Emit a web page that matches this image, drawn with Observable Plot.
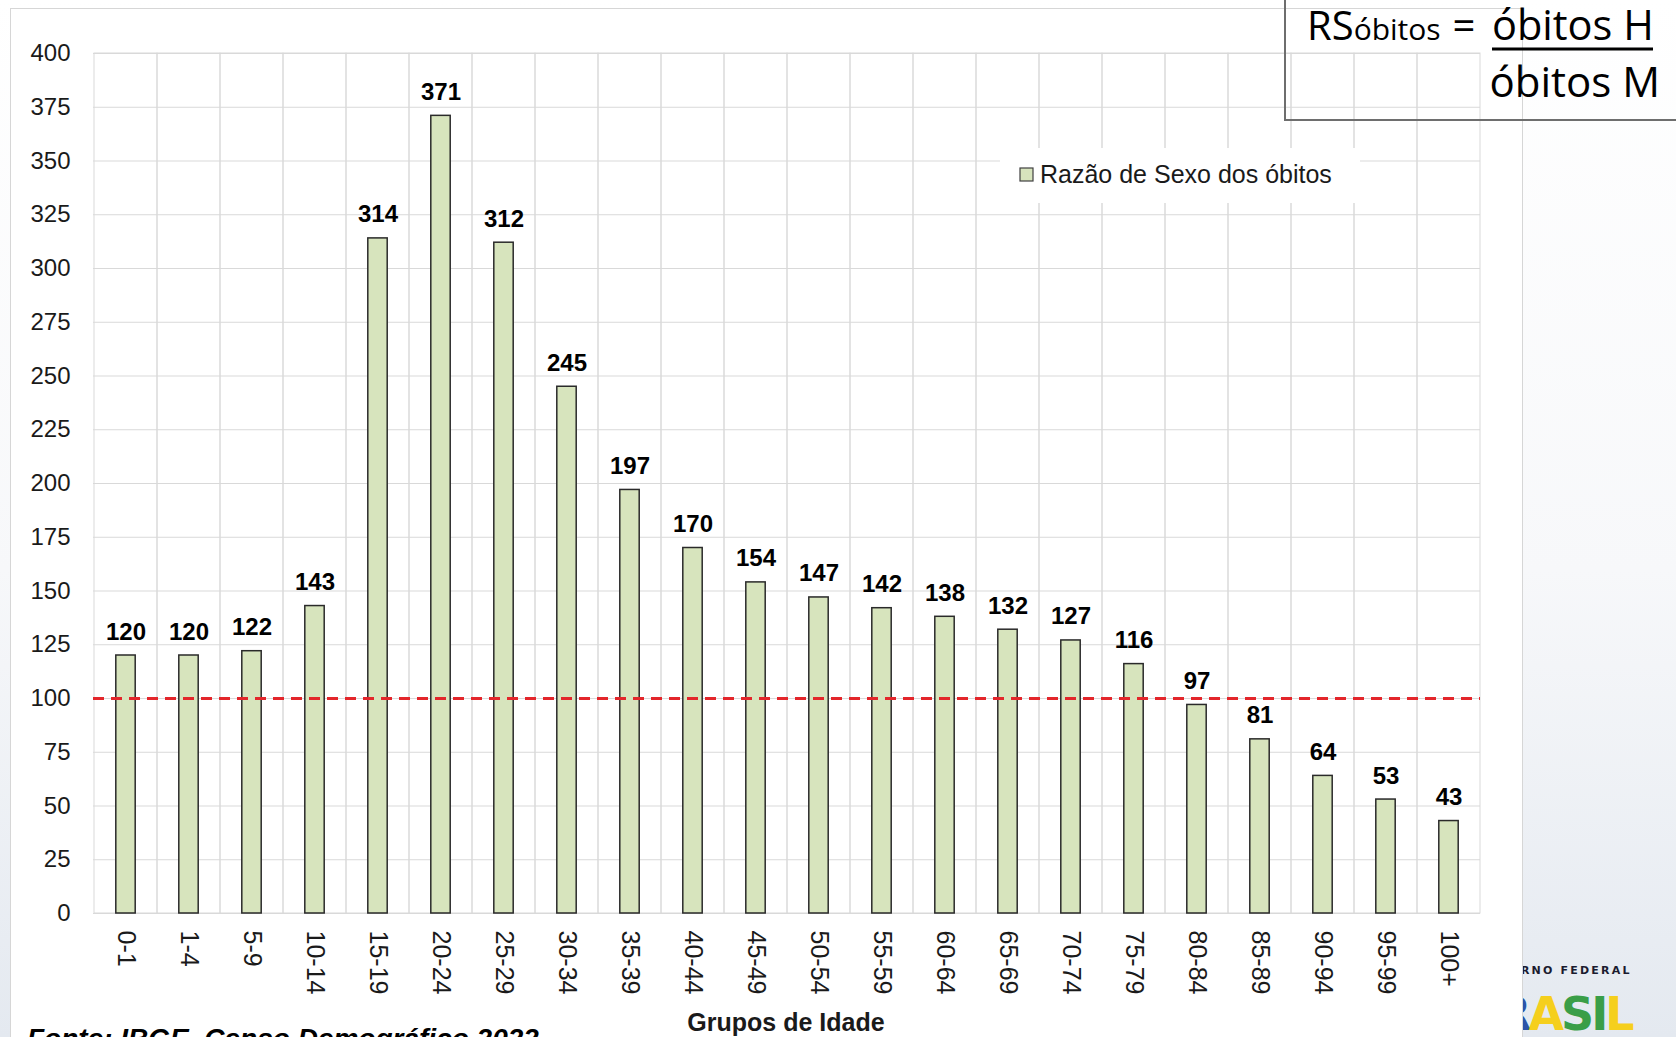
<!DOCTYPE html>
<html>
<head>
<meta charset="utf-8">
<script src="https://cdn.jsdelivr.net/npm/d3@7"></script>
<script src="https://cdn.jsdelivr.net/npm/@observablehq/plot@0.6"></script>
<style>
  html, body { margin: 0; padding: 0; }
  body {
    width: 1676px; height: 1037px; overflow: hidden; position: relative;
    background: linear-gradient(to bottom, #ffffff 0%, #f7f8fa 55%, #e4e9f0 100%);
    font-family: "Liberation Sans", Arial, sans-serif;
  }
  .layer { position: absolute; left: 0; top: 0; }
  #frame {
    position: absolute; left: 10px; top: 8px; width: 1513px; height: 1060px;
    box-sizing: border-box; border: 1.5px solid #d6d6d6; background: #ffffff;
  }
</style>
</head>
<body>
<svg id="under" class="layer" width="1676" height="1037" style="z-index:0">
  <text x="1478" y="974" font-family="DejaVu Sans" font-weight="bold" font-size="11" letter-spacing="2.2" fill="#1b1b2f">GOVERNO FEDERAL</text>
  <text x="1464" y="1030" font-family="DejaVu Sans" font-weight="bold" font-size="46" letter-spacing="-3">
    <tspan fill="#2c53a8">B</tspan><tspan fill="#2c53a8">R</tspan><tspan fill="#f5cf1d">A</tspan><tspan fill="#3a9e48">S</tspan><tspan fill="#3a9e48">I</tspan><tspan fill="#f5cf1d">L</tspan>
  </text>
</svg>
<div id="frame" style="z-index:1"></div>
<div id="chart" class="layer" style="z-index:2"></div>
<svg id="over" class="layer" width="1676" height="1037" style="z-index:3">
  <!-- legend -->
  <rect x="1000" y="148" width="360" height="55" fill="#ffffff"></rect>
  <rect x="1020" y="168" width="13" height="13" fill="#d7e4bd" stroke="#404040" stroke-width="1.2"></rect>
  <text x="1040" y="183" font-family="Liberation Sans, Arial, sans-serif" font-size="25" fill="#1a1a1a">Razão de Sexo dos óbitos</text>
  <!-- formula box -->
  <rect x="1285" y="-10" width="430" height="130" fill="none" stroke="#6e6e6e" stroke-width="2"></rect>
  <text y="40" font-family="Open Sans, sans-serif" fill="#000">
    <tspan x="1307" font-size="40">RS</tspan><tspan font-size="30">óbitos</tspan>
  </text>
  <text x="1464" y="40" text-anchor="middle" font-family="Open Sans, sans-serif" font-size="40" fill="#000">=</text>
  <text x="1492" y="40" font-family="Open Sans, sans-serif" font-size="41.5" fill="#000">óbitos H</text>
  <line x1="1492" x2="1653" y1="49" y2="49" stroke="#000" stroke-width="3"></line>
  <text x="1660" y="97" text-anchor="end" font-family="Open Sans, sans-serif" font-size="42" fill="#000">óbitos M</text>
  <!-- source -->
  <text x="27" y="1048" font-family="Liberation Sans, Arial, sans-serif" font-weight="bold" font-style="italic" font-size="28" fill="#000">Fonte: IBGE, Censo Demográfico 2022</text>
  <!-- x axis title -->
  <text x="786" y="1031" text-anchor="middle" font-family="Liberation Sans, Arial, sans-serif" font-weight="bold" font-size="25" fill="#1a1a1a">Grupos de Idade</text>
</svg>
<script>
const ageGroups = ["0-1","1-4","5-9","10-14","15-19","20-24","25-29","30-34","35-39","40-44","45-49","50-54","55-59","60-64","65-69","70-74","75-79","80-84","85-89","90-94","95-99","100+"];
const sexRatio = [120,120,122,143,314,371,312,245,197,170,154,147,142,138,132,127,116,97,81,64,53,43];
const yTicks = [0,25,50,75,100,125,150,175,200,225,250,275,300,325,350,375,400];
const referenceLine = [100];
const yDomain = [0, 400];

const data = ageGroups.map((g, i) => ({group: g, ratio: sexRatio[i]}));

const chart = Plot.plot({
  width: 1676,
  height: 1037,
  marginLeft: 93,
  marginRight: 196,
  marginTop: 53,
  marginBottom: 124,
  style: {background: "transparent", fontFamily: "Liberation Sans, Arial, sans-serif", fontSize: "24px", color: "#1a1a1a", overflow: "visible"},
  x: {domain: ageGroups, padding: 0, label: null},
  y: {domain: yDomain, label: null},
  marks: [
    Plot.gridY(yTicks, {stroke: "#d9d9d9", strokeOpacity: 1, strokeWidth: 1}),
    Plot.barY(ageGroups, {x: d => d, y1: yDomain[0], y2: yDomain[1], fill: "none", stroke: "#d9d9d9", strokeWidth: 1}),
    Plot.barY(data, {x: "group", y: "ratio", fill: "#d7e4bd", stroke: "#2a2a2a", strokeWidth: 1.5, insetLeft: 21.8, insetRight: 21.8}),
    Plot.ruleY(referenceLine, {stroke: "#e3262b", strokeWidth: 3, strokeDasharray: "11,7"}),
    Plot.text(data, {x: "group", y: "ratio", text: d => String(d.ratio), lineAnchor: "bottom", dy: -16, fontWeight: "bold", fontSize: 24, fill: "#000"}),
    Plot.axisY(yTicks, {tickSize: 0, tickPadding: 23, label: null, fill: "#1a1a1a"}),
    Plot.axisX({tickSize: 0, tickPadding: 17, tickRotate: 90, label: null, fill: "#1a1a1a", fontSize: 25})
  ]
});
document.getElementById("chart").appendChild(chart);
</script>
</body>
</html>
